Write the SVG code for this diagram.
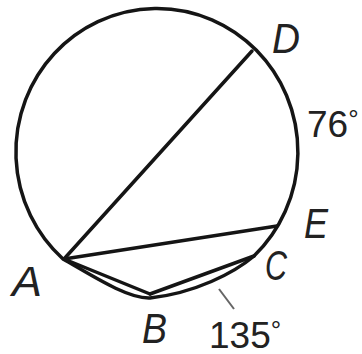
<svg xmlns="http://www.w3.org/2000/svg" width="362" height="354" viewBox="0 0 362 354">
<style>
.ln{fill:none;stroke:#151515;stroke-width:3.5;stroke-linecap:round;stroke-linejoin:round}
.pt{font-family:"Liberation Sans",Arial,sans-serif;font-style:italic;font-size:42px;fill:#222}
.num{font-family:"Liberation Sans",Arial,sans-serif;font-size:37px;fill:#222}
.deg{font-size:26px}
</style>
<rect width="362" height="354" fill="#fff"/>
<g id="circle"><path d="M63,259 A141,143.5 0 1 1 254,256 C234,273 195,293 150,298 C127,299 88,273 63,259 Z" class="ln" stroke-width="4"/></g>
<g id="connectors">
<line x1="64" y1="259" x2="252" y2="51" class="ln"/>
<line x1="64" y1="259" x2="277" y2="226" class="ln" stroke="#2a2a2a"/>
<line x1="64" y1="259" x2="150" y2="294" class="ln"/>
<line x1="150" y1="294" x2="254" y2="256" class="ln"/>
<line x1="219" y1="289" x2="234" y2="309" stroke="#666" stroke-width="2"/>
</g>
<g id="A"><text x="12" y="296" class="pt" textLength="30" lengthAdjust="spacingAndGlyphs">A</text></g>
<g id="B"><text x="142" y="343" class="pt" textLength="25" lengthAdjust="spacingAndGlyphs">B</text></g>
<g id="C"><text x="265" y="280" class="pt" textLength="22" lengthAdjust="spacingAndGlyphs">C</text></g>
<g id="D"><text x="272" y="53" class="pt" textLength="28" lengthAdjust="spacingAndGlyphs">D</text></g>
<g id="E"><text x="304" y="238" class="pt" textLength="24" lengthAdjust="spacingAndGlyphs">E</text></g>
<g id="arcDE"><text x="307" y="137" class="num">76<tspan class="deg" dy="-9">°</tspan></text></g>
<g id="arcABC"><text x="209" y="348" class="num">135<tspan class="deg" dy="-9">°</tspan></text></g>
</svg>
